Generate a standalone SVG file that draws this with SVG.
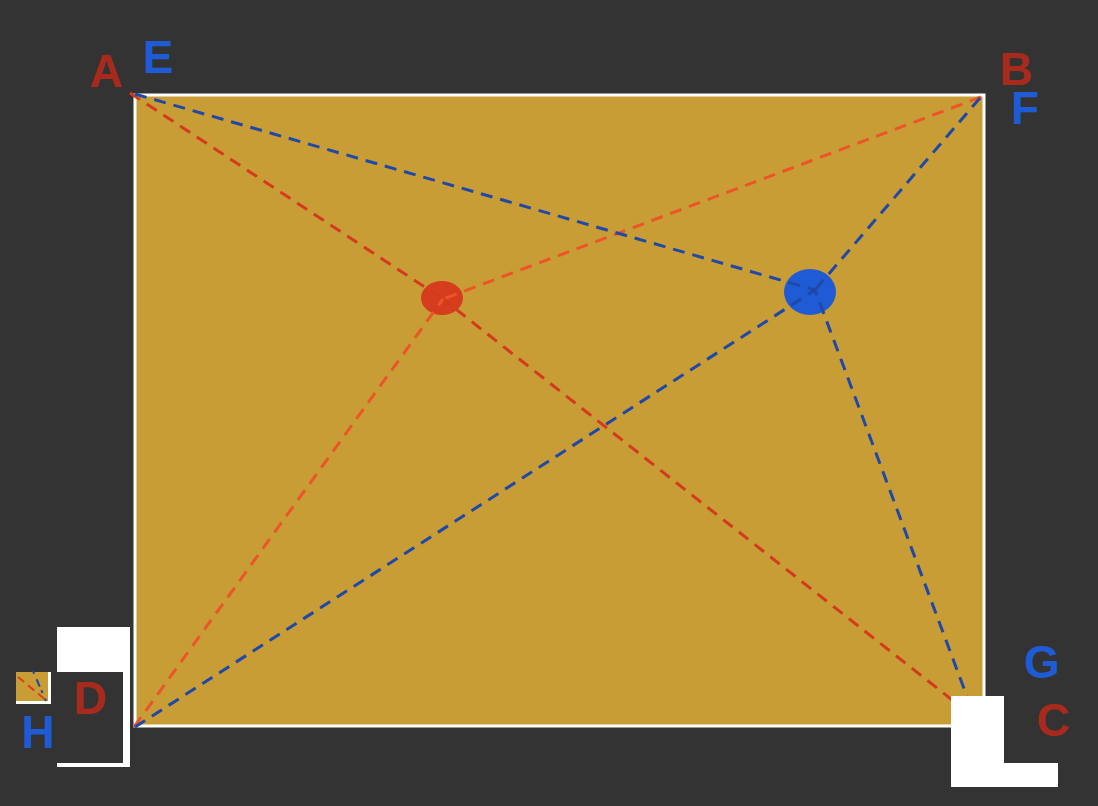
<svg xmlns="http://www.w3.org/2000/svg" width="1098" height="806" viewBox="0 0 1098 806">
<style>
.lbl{font-family:"Liberation Sans",Arial,sans-serif;font-weight:bold;font-size:46px;text-anchor:middle}
.r{fill:#A82A1C}
.b{fill:#1F5BD4}
.rl{stroke:#D43A1E;stroke-width:3;stroke-dasharray:12 8;fill:none}
.rl2{stroke:#EB5528;stroke-width:3;stroke-dasharray:12 8;fill:none}
.bl{stroke:#1F48A8;stroke-width:3;stroke-dasharray:12 8;fill:none}
.white{fill:#FFFFFF}
</style>
<rect x="0" y="0" width="1098" height="806" fill="#333333"/>
<g id="board">
<rect x="135" y="95" width="849" height="631" fill="#C99D35" stroke="#FFFFFF" stroke-width="3"/>
</g>
<g id="red-dot"><ellipse cx="442" cy="298" rx="21" ry="17" fill="#D63C1E"/></g>
<g id="blue-dot"><ellipse cx="810" cy="292" rx="26" ry="23" fill="#1F5BD4"/></g>
<g id="connectors">
<line class="rl" x1="130" y1="93" x2="443" y2="299"/>
<line class="rl2" x1="981" y1="97" x2="443" y2="299"/>
<line class="rl" x1="984" y1="725" x2="443" y2="299"/>
<line class="rl2" x1="134" y1="727" x2="443" y2="299"/>
<line class="bl" x1="135" y1="94" x2="815" y2="290"/>
<line class="bl" x1="980" y1="98" x2="815" y2="290"/>
<line class="bl" x1="978" y1="726" x2="815" y2="290"/>
<line class="bl" x1="135" y1="727" x2="815" y2="290"/>
</g>
<g id="minimap">
<rect x="16" y="672" width="35" height="32" class="white"/>
<rect x="16" y="672" width="32" height="29" fill="#C99D35"/>
<line x1="18" y1="677" x2="47" y2="701" stroke="#D9401F" stroke-width="2" stroke-dasharray="8 5"/>
<line x1="33" y1="671" x2="46" y2="701" stroke="#1F48A8" stroke-width="2" stroke-dasharray="3 6 8 4"/>
</g>
<g id="bracket-left">
<rect x="57" y="627" width="73" height="140" class="white"/>
<rect x="57" y="672" width="66" height="91" fill="#333333"/>
</g>
<g id="bracket-right">
<rect x="951" y="696" width="53" height="91" class="white"/>
<rect x="951" y="763" width="107" height="24" class="white"/>
</g>
<g id="labels">
<text class="lbl r" x="106" y="87">A</text>
<text class="lbl b" x="158" y="73">E</text>
<text class="lbl r" x="1016" y="85">B</text>
<text class="lbl b" x="1025" y="124">F</text>
<text class="lbl b" x="1042" y="678">G</text>
<text class="lbl r" x="1053" y="736">C</text>
<text class="lbl r" x="90" y="714">D</text>
<text class="lbl b" x="38" y="748">H</text>
</g>
</svg>
